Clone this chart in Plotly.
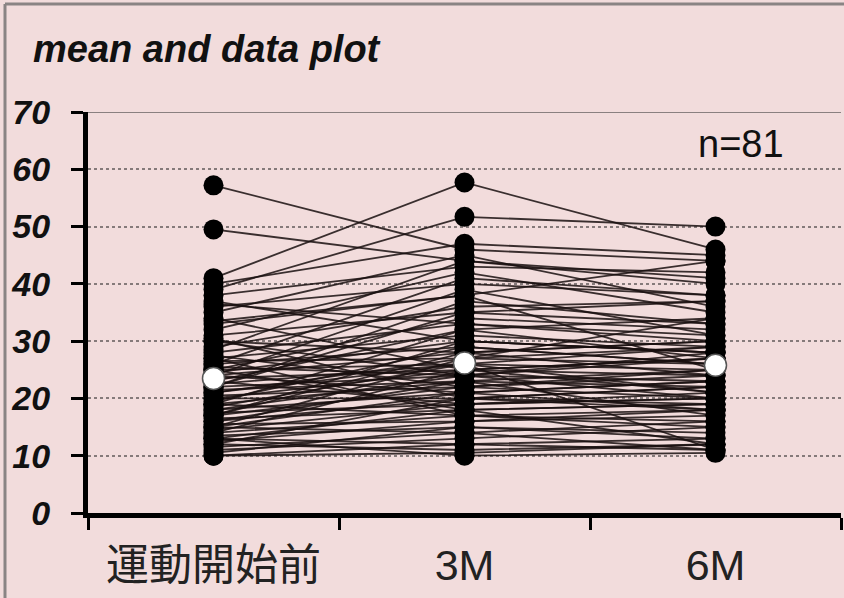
import plotly.graph_objects as go

categories = ["運動開始前", "3M", "6M"]

# 81 subjects: values at baseline, 3M, 6M (read/estimated from the picture)
baseline = [57.2, 49.5, 41, 39,
            40, 38, 37, 36, 35, 34, 33, 32, 31, 30, 30.5, 29,
            28, 27.5, 27, 26.5, 26, 25.5, 25, 25, 24.5, 24, 24, 23.5,
            23, 23, 22.5, 22, 22, 21.5, 25, 21, 20.5, 20, 20, 19.5,
            19, 19, 18.5, 18, 18, 17.5, 17, 17, 16.5, 16, 16, 15.5,
            15, 15, 14.5, 14, 14, 13.5, 13, 13, 12.5, 12, 12, 11.5,
            11, 13, 10.5, 10, 10,
            26, 22, 28.5, 19, 24, 17, 30, 27, 36.5, 21, 33.5, 15]
month3 = [46, 44, 57.7, 51.7,
          47, 43, 30, 40, 45, 25, 38, 42, 35, 28, 20, 36,
          33, 22, 31, 27, 29, 24, 34, 26, 30, 21, 28, 25,
          32, 19, 26, 24, 37, 23, 18, 27, 22, 25, 20, 29,
          23, 17, 26, 21, 24, 19, 22, 28, 18, 20, 23, 16,
          21, 14, 19, 17, 25, 15, 18, 12, 16, 11, 20, 14,
          13, 10, 15, 12, 10.5,
          41, 35, 44, 32, 39, 30, 24, 17, 33, 26, 38, 27]
month6 = [44, 40, 46, 50,
          45, 42, 28, 38, 36, 27, 44, 35, 33, 30, 22, 37,
          31, 25, 29, 34, 26, 27, 32, 21, 28, 18, 30, 24,
          27, 20, 29, 23, 33, 25, 12, 26, 24, 27, 19, 26,
          22, 18, 25, 23, 28, 21, 20, 24, 19, 22, 17, 18,
          23, 16, 20, 15, 21, 14, 19, 13, 17, 12, 18, 11,
          15, 10.5, 13, 11, 12,
          38, 37, 41, 34, 31, 28, 20, 16, 30, 11, 25, 29]
means = [23.5, 26.2, 25.8]

y_ticks = [0, 10, 20, 30, 40, 50, 60, 70]

# build line segments per subject (None separated)
lx, ly = [], []
for a, b, c in zip(baseline, month3, month6):
    lx += [categories[0], categories[1], categories[2], None]
    ly += [a, b, c, None]

px, py = [], []
for cat, vals in zip(categories, [baseline, month3, month6]):
    px += [cat] * len(vals)
    py += vals

fig = go.Figure()
fig.add_trace(go.Scatter(x=lx, y=ly, mode="lines",
                         line=dict(color="rgba(25,15,15,0.85)", width=1.8),
                         connectgaps=False, hoverinfo="skip", showlegend=False))
fig.add_trace(go.Scatter(x=px, y=py, mode="markers",
                         marker=dict(color="black", size=20, line=dict(width=0)),
                         showlegend=False))
fig.add_trace(go.Scatter(x=categories, y=means, mode="markers",
                         marker=dict(color="white", size=22,
                                     line=dict(color="#555", width=1.5)),
                         showlegend=False))

bg = "#f2dcdc"
L, R, T, B = 88, 3, 112, 85
W, H = 844, 598
pw, ph = W - L - R, H - T - B

def paper_x(p):
    return (p - L) / pw

def paper_y(p):
    return (H - B - p) / ph

fig.update_layout(
    width=W, height=H,
    margin=dict(l=L, r=R, t=T, b=B),
    paper_bgcolor=bg, plot_bgcolor=bg,
    title=dict(text="mean and data plot", xref="container", yref="container",
               x=33 / W, xanchor="left", y=1 - 49 / H, yanchor="middle",
               font=dict(family="Liberation Sans, Arial", size=38, color="#111",
                         weight="bold", style="italic")),
    xaxis=dict(type="category", categoryorder="array", categoryarray=categories,
               range=[-0.5, 2.5], tickson="boundaries",
               showline=True, linecolor="black", linewidth=5,
               ticks="outside", ticklen=12, tickwidth=3, tickcolor="black",
               ticklabelstandoff=10,
               showgrid=False, zeroline=False,
               tickfont=dict(family="Liberation Sans, Noto Sans CJK JP", size=43,
                             color="#222")),
    yaxis=dict(range=[0, 70], tickvals=y_ticks, ticktext=[str(v) for v in y_ticks],
               showline=True, linecolor="black", linewidth=5,
               ticks="outside", ticklen=12, tickwidth=3, tickcolor="black",
               ticklabelstandoff=14,
               showgrid=True, gridcolor="#857a7a", gridwidth=2, griddash="dot",
               zeroline=False,
               tickfont=dict(family="Liberation Sans, Arial", size=34, color="#111",
                             weight="bold", style="italic")),
    shapes=[
        dict(type="line", xref="paper", yref="y", x0=0, x1=1, y0=70, y1=70,
             line=dict(color="#8a8080", width=2), layer="below"),
        dict(type="line", xref="paper", yref="paper",
             x0=paper_x(5), x1=paper_x(W), y0=paper_y(4), y1=paper_y(4),
             line=dict(color="#8a8484", width=3)),
        dict(type="line", xref="paper", yref="paper",
             x0=paper_x(5), x1=paper_x(5), y0=paper_y(4), y1=paper_y(H),
             line=dict(color="#8a8484", width=3)),
    ],
    annotations=[
        dict(text="n=81", xref="x", yref="y", x=2.1, y=64.5, showarrow=False,
             font=dict(family="Liberation Sans, Arial", size=38, color="#111"))
    ],
)

fig.write_html("out.html")
